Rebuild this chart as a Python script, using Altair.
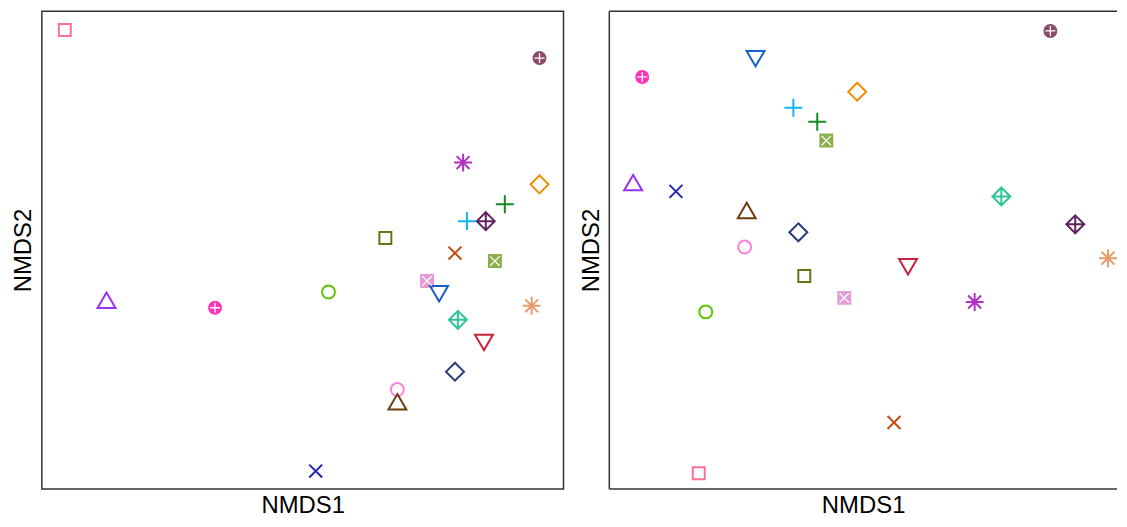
import altair as alt
import pandas as pd

# group identifiers (22 groups, 11 symbols x 2 colours)
groups = ["G01", "G02", "G03", "G04", "G05", "G06", "G07", "G08", "G09", "G10", "G11",
          "G12", "G13", "G14", "G15", "G16", "G17", "G18", "G19", "G20", "G21", "G22"]
colors = ["#FF6F8E", "#8E4A6B", "#B22FC4", "#F08C00", "#138A22", "#14B4F0", "#5C2461",
          "#6B7013", "#C24A0C", "#8BB04A", "#E49BD6", "#1560C8", "#9933F2", "#FF33B8",
          "#5EC400", "#E89C6C", "#2EC494", "#C8203C", "#283C78", "#FF7FE0", "#6E3C0A", "#2424B8"]
symbols = ["square", "circleplus", "asterisk", "diamond", "plus", "plus", "diamondplus",
           "square", "cross", "boxx", "boxx", "down", "triangle", "circleplus",
           "circle", "asterisk", "diamondplus", "down", "diamond", "circle", "triangle", "cross"]

# panel 1 ordination scores
left_x = [-0.912, 0.908, 0.615, 0.908, 0.775, 0.630, 0.702, 0.317, 0.584, 0.737, 0.477,
          0.523, -0.752, -0.336, 0.099, 0.878, 0.595, 0.695, 0.584, 0.363, 0.363, 0.050]
left_y = [0.918, 0.802, 0.370, 0.280, 0.198, 0.128, 0.128, 0.058, -0.004, -0.037, -0.119,
          -0.165, -0.206, -0.230, -0.165, -0.222, -0.280, -0.366, -0.494, -0.568, -0.626, -0.905]

# panel 2 ordination scores
right_x = [-0.655, 0.701, 0.409, -0.044, -0.198, -0.290, 0.797, -0.248, 0.098, -0.163, -0.094,
           -0.436, -0.908, -0.873, -0.628, 0.923, 0.512, 0.152, -0.271, -0.478, -0.470, -0.743]
right_y = [-0.914, 0.914, -0.206, 0.663, 0.539, 0.597, 0.115, -0.099, -0.704, 0.461, -0.189,
           0.807, 0.280, 0.724, -0.247, -0.025, 0.230, -0.053, 0.082, 0.021, 0.165, 0.251]

# visible axis ranges (right panel is cropped at its right edge)
left_xdomain = [-1.0, 1.0]
right_xdomain = [-1.0, 0.958]
ydomain = [-0.979, 0.996]

# outline symbol paths (unit square -1..1)
outline = {
    "square": "M-0.6,-0.6H0.6V0.6H-0.6Z",
    "circle": "M-0.65,0A0.65,0.65,0,1,1,0.65,0A0.65,0.65,0,1,1,-0.65,0Z",
    "triangle": "M0,-0.95L0.9,0.6L-0.9,0.6Z",
    "down": "M0,0.95L0.9,-0.6L-0.9,-0.6Z",
    "plus": "M-0.9,0H0.9M0,-0.9V0.9",
    "cross": "M-0.65,-0.65L0.65,0.65M0.65,-0.65L-0.65,0.65",
    "diamond": "M0,-0.9L0.9,0L0,0.9L-0.9,0Z",
    "asterisk": "M-0.9,0H0.9M0,-0.9V0.9M-0.65,-0.65L0.65,0.65M0.65,-0.65L-0.65,0.65",
    "diamondplus": "M0,-0.9L0.9,0L0,0.9L-0.9,0ZM-0.9,0H0.9M0,-0.9V0.9",
    "circleplus": "M-0.6,0A0.6,0.6,0,1,1,0.6,0A0.6,0.6,0,1,1,-0.6,0Z",
    "boxx": "M-0.6,-0.6H0.6V0.6H-0.6Z",
}
# solid bodies and white inner strokes of the two heavy symbols
solid = {
    "circleplus": "M-0.6,0A0.6,0.6,0,1,1,0.6,0A0.6,0.6,0,1,1,-0.6,0Z",
    "boxx": "M-0.6,-0.6H0.6V0.6H-0.6Z",
}
inner = {
    "circleplus": "M-0.5,0H0.5M0,-0.5V0.5",
    "boxx": "M-0.47,-0.47L0.47,0.47M0.47,-0.47L-0.47,0.47",
}

shape_range = [outline[s] for s in symbols]
heavy_groups = [g for g, s in zip(groups, symbols) if s in solid]
heavy_solid = [solid[s] for s in symbols if s in solid]
heavy_inner = [inner[s] for s in symbols if s in inner]

df_left = pd.DataFrame({"group": groups, "NMDS1": left_x, "NMDS2": left_y})
df_right = pd.DataFrame({"group": groups, "NMDS1": right_x, "NMDS2": right_y})

axis_x = alt.Axis(title="NMDS1", labels=False, ticks=False, grid=False, domain=False, titlePadding=5)
axis_y = alt.Axis(title="NMDS2", labels=False, ticks=False, grid=False, domain=False, titlePadding=6)

H = 480
BORDER = "#333333"
color_enc = alt.Color("group:N", scale=alt.Scale(domain=groups, range=colors), legend=None)


def layers(df, xdomain):
    base = alt.Chart(df).encode(
        x=alt.X("NMDS1:Q", scale=alt.Scale(domain=xdomain, nice=False, zero=False), axis=axis_x),
        y=alt.Y("NMDS2:Q", scale=alt.Scale(domain=ydomain, nice=False, zero=False), axis=axis_y),
    )
    heavy = base.transform_filter(alt.FieldOneOfPredicate(field="group", oneOf=heavy_groups))
    body = heavy.mark_point(filled=True, size=400, opacity=1, clip=True).encode(
        shape=alt.Shape("group:N", scale=alt.Scale(domain=heavy_groups, range=heavy_solid), legend=None),
        color=color_enc,
    )
    pts = base.mark_point(filled=False, strokeWidth=2, size=400, opacity=1, clip=True).encode(
        shape=alt.Shape("group:N", scale=alt.Scale(domain=groups, range=shape_range), legend=None),
        color=color_enc,
    )
    marks = heavy.mark_point(filled=False, color="#FFFFFF", strokeWidth=1.3, size=400, opacity=1,
                             clip=True).encode(
        shape=alt.Shape("group:N", scale=alt.Scale(domain=heavy_groups, range=heavy_inner), legend=None),
    )
    return [body, pts, marks]


left = alt.layer(*layers(df_left, left_xdomain)).resolve_scale(shape="independent").properties(
    width=524, height=H)

WR = 510
frame = pd.DataFrame({"edge": ["frame"]})
top_rule = alt.Chart(frame).mark_rule(color=BORDER, strokeWidth=1.5).encode(
    x=alt.value(0), x2=alt.value(WR), y=alt.value(0))
bottom_rule = alt.Chart(frame).mark_rule(color=BORDER, strokeWidth=1.5).encode(
    x=alt.value(0), x2=alt.value(WR), y=alt.value(H))
left_rule = alt.Chart(frame).mark_rule(color=BORDER, strokeWidth=1.5).encode(
    x=alt.value(0), y=alt.value(0), y2=alt.value(H))

right = alt.layer(*layers(df_right, right_xdomain), top_rule, bottom_rule, left_rule).resolve_scale(
    shape="independent").properties(width=WR, height=H, view=alt.ViewBackground(stroke="transparent"))

chart = alt.hconcat(left, right, spacing=14).resolve_scale(shape="independent").properties(
    padding={"left": 3, "top": 0, "right": 0, "bottom": 0}
).configure_view(
    stroke=BORDER, strokeWidth=1.5
).configure_axis(
    titleFont="Liberation Sans", titleFontSize=24, titleFontWeight="normal", titleColor="#000000"
)

chart.save("out.html", embed_options={"renderer": "svg", "actions": False})
